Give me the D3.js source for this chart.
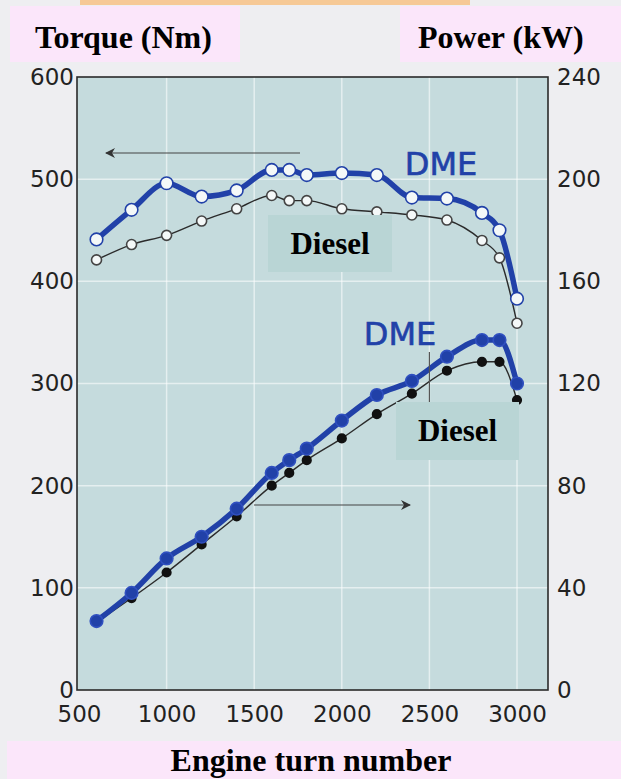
<!DOCTYPE html>
<html>
<head>
<meta charset="utf-8">
<script src="https://cdn.jsdelivr.net/npm/d3@7"></script>
<style>
  html, body { margin: 0; padding: 0; background: #eeeef1; }
  svg { display: block; }
</style>
</head>
<body>
<div id="chart"></div>
<script>
// engine speed (rpm) of every measured point
const rpm = [600, 800, 1000, 1200, 1400, 1600, 1700, 1800, 2000, 2200, 2400, 2600, 2800, 2900, 3000];
// torque, Nm
const torqueDME = [441, 470, 496, 483, 489, 509, 509, 504, 506, 504, 482, 481, 467, 450, 383];
const torqueDiesel = [421, 436, 445, 459, 471, 484, 479, 479, 471, 468, 465, 460, 440, 423, 359];
// power, kW
const powerDME = [27, 38, 51.5, 60, 71, 85, 90, 94.5, 105.5, 115.5, 121, 130.5, 137, 137, 120];
const powerDiesel = [26.5, 36, 46, 57, 68, 80, 85, 90, 98.5, 108, 116, 125, 128.5, 128.5, 113.5];

const xTicks = [500, 1000, 1500, 2000, 2500, 3000];
const torqueTicks = [0, 100, 200, 300, 400, 500, 600];
const powerTicks = [0, 40, 80, 120, 160, 200, 240];

const width = 621, height = 779;
const frame = { left: 77, right: 548, top: 77, bottom: 690 };

const svg = d3.select("#chart").append("svg")
  .attr("width", width)
  .attr("height", height);

// x scale: the frame runs a little past 3000 on the right
const x = d3.scaleLinear().domain([500, 3000]).range([79, 517]);
const yT = d3.scaleLinear().domain([0, 600]).range([frame.bottom, frame.top]);
const yP = d3.scaleLinear().domain([0, 240]).range([frame.bottom, frame.top]);

// top orange strip and label boxes
svg.append("rect").attr("x", 80).attr("y", 0).attr("width", 390).attr("height", 5).attr("fill", "#f6c996");
svg.append("rect").attr("x", 10).attr("y", 6).attr("width", 230).attr("height", 56).attr("fill", "#fbe6fa");
svg.append("rect").attr("x", 400).attr("y", 6).attr("width", 221).attr("height", 56).attr("fill", "#fbe6fa");
svg.append("rect").attr("x", 7).attr("y", 741).attr("width", 614).attr("height", 38).attr("fill", "#fbe6fa");

const titleFont = "'Liberation Serif', 'Times New Roman', serif";
svg.append("text").attr("x", 35).attr("y", 48)
  .style("font-family", titleFont).style("font-weight", "bold").style("font-size", "32px")
  .text("Torque (Nm)");
svg.append("text").attr("x", 418).attr("y", 48)
  .style("font-family", titleFont).style("font-weight", "bold").style("font-size", "32px")
  .text("Power (kW)");
svg.append("text").attr("x", 311).attr("y", 771).attr("text-anchor", "middle")
  .style("font-family", titleFont).style("font-weight", "bold").style("font-size", "32px")
  .text("Engine turn number");

// plot background
svg.append("rect")
  .attr("x", frame.left).attr("y", frame.top)
  .attr("width", frame.right - frame.left).attr("height", frame.bottom - frame.top)
  .attr("fill", "#c5dbdd");

// faint white grid
const grid = svg.append("g").attr("stroke", "#ffffff").attr("stroke-opacity", 0.55).attr("stroke-width", 1.5);
grid.selectAll("line.v").data(xTicks.slice(1)).enter().append("line")
  .attr("x1", d => x(d)).attr("x2", d => x(d))
  .attr("y1", frame.top).attr("y2", frame.bottom);
grid.selectAll("line.h").data(torqueTicks.slice(1, -1)).enter().append("line")
  .attr("x1", frame.left).attr("x2", frame.right)
  .attr("y1", d => yT(d)).attr("y2", d => yT(d));

// frame
svg.append("rect")
  .attr("x", frame.left).attr("y", frame.top)
  .attr("width", frame.right - frame.left).attr("height", frame.bottom - frame.top)
  .attr("fill", "none").attr("stroke", "#2a2a2a").attr("stroke-width", 1.6);

// axes
const tickFont = "'DejaVu Sans', sans-serif";
const styleAxis = g => {
  g.select(".domain").remove();
  g.selectAll(".tick line").remove();
  g.selectAll("text").style("font-family", tickFont).style("font-size", "23px").attr("fill", "#222");
};
svg.append("g").attr("transform", `translate(${frame.left},0)`)
  .call(d3.axisLeft(yT).tickValues(torqueTicks).tickSize(0).tickPadding(3))
  .call(styleAxis);
svg.append("g").attr("transform", `translate(${frame.right},0)`)
  .call(d3.axisRight(yP).tickValues(powerTicks).tickSize(0).tickPadding(9))
  .call(styleAxis);
svg.append("g").attr("transform", `translate(0,${frame.bottom})`)
  .call(d3.axisBottom(x).tickValues(xTicks).tickSize(0).tickPadding(16).tickFormat(d3.format("d")))
  .call(styleAxis);

// curves
const pts = (vals, y) => rpm.map((r, i) => [x(r), y(vals[i])]);
const line = d3.line().curve(d3.curveMonotoneX);
const blue = "#2141a8";

function series(vals, y, color, lw, r, fill, mstroke) {
  const p = pts(vals, y);
  svg.append("path").attr("d", line(p)).attr("fill", "none")
    .attr("stroke", color).attr("stroke-width", lw).attr("stroke-linejoin", "round");
  svg.append("g").selectAll("circle").data(p).enter().append("circle")
    .attr("cx", d => d[0]).attr("cy", d => d[1]).attr("r", r)
    .attr("fill", fill).attr("stroke", mstroke).attr("stroke-width", 1.6);
}

series(torqueDiesel, yT, "#2b2b2b", 1.4, 5, "#f4f8f8", "#444");
series(torqueDME, yT, blue, 5.5, 6.3, "#f4f8f8", blue);
series(powerDiesel, yP, "#2b2b2b", 1.4, 4.3, "#111", "#111");
series(powerDME, yP, blue, 5.5, 6.3, blue, "#3050c0");

// arrows
svg.append("defs").append("marker")
  .attr("id", "head").attr("viewBox", "0 0 10 10").attr("refX", 9).attr("refY", 5)
  .attr("markerWidth", 14).attr("markerHeight", 10).attr("markerUnits", "userSpaceOnUse")
  .attr("orient", "auto")
  .append("path").attr("d", "M0,0 L10,5 L0,10 L3,5 Z").attr("fill", "#333");
svg.append("line").attr("x1", 300).attr("y1", 153).attr("x2", 106).attr("y2", 153)
  .attr("stroke", "#444").attr("stroke-width", 1.2).attr("marker-end", "url(#head)");
svg.append("line").attr("x1", 254).attr("y1", 505).attr("x2", 410).attr("y2", 505)
  .attr("stroke", "#444").attr("stroke-width", 1.2).attr("marker-end", "url(#head)");

// leader line under lower DME label
svg.append("line").attr("x1", x(2500)).attr("x2", x(2500)).attr("y1", 352).attr("y2", 402)
  .attr("stroke", "#555").attr("stroke-width", 1.2);

// DME labels
const dmeFont = "'DejaVu Sans', sans-serif";
[[441, 175], [400, 345]].forEach(([cx, by]) => {
  svg.append("text").attr("x", cx).attr("y", by).attr("text-anchor", "middle")
    .style("font-family", dmeFont).style("font-size", "32px")
    .attr("fill", blue).attr("stroke", blue).attr("stroke-width", 0.6)
    .text("DME");
});

// Diesel labels in boxes
[[268, 215, 124, 57], [396, 402, 123, 58]].forEach(([bx, by, bw, bh]) => {
  svg.append("rect").attr("x", bx).attr("y", by).attr("width", bw).attr("height", bh).attr("fill", "#b9d5d5");
  svg.append("text").attr("x", bx + bw / 2).attr("y", by + bh / 2 + 10).attr("text-anchor", "middle")
    .style("font-family", titleFont).style("font-weight", "bold").style("font-size", "31px")
    .text("Diesel");
});
</script>
</body>
</html>
